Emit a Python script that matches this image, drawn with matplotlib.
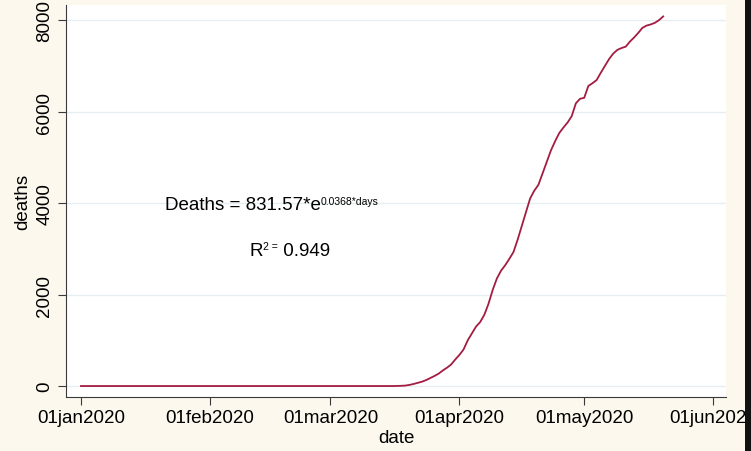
import matplotlib
matplotlib.use("Agg")

import matplotlib.dates as mdates
import matplotlib.pyplot as plt
import pandas as pd
from matplotlib.patches import Rectangle

# フォント設定 (Stata風のHelvetica系)
plt.rcParams["font.family"] = ["Liberation Sans", "DejaVu Sans"]

# データ: 2020年1月1日からの経過日数と累計死者数
start_date = "2020-01-01"
days = [0, 74, 75, 76, 77, 78, 79, 80, 81, 82, 83, 84, 85, 86, 87, 88, 89,
        90, 91, 92, 93, 94, 95, 96, 97, 98, 99, 100, 101, 102, 103, 104,
        105, 106, 107, 108, 109, 110, 111, 112, 113, 114, 115, 116, 117,
        118, 119, 120, 121, 122, 123, 124, 125, 126, 127, 128, 129, 130,
        131, 132, 133, 134, 135, 136, 137, 138, 139, 140]
deaths = [0, 0, 0, 2, 5, 10, 25, 45, 70, 95, 130, 175, 220, 270, 340, 400,
          470, 580, 680, 800, 1000, 1150, 1300, 1400, 1560, 1800, 2100,
          2350, 2520, 2640, 2780, 2930, 3200, 3500, 3800, 4100, 4270, 4400,
          4650, 4900, 5150, 5350, 5530, 5650, 5760, 5900, 6180, 6280, 6300,
          6560, 6620, 6690, 6850, 7000, 7150, 7270, 7350, 7390, 7420, 7530,
          7620, 7720, 7830, 7880, 7905, 7940, 8000, 8080]

tick_dates = ["2020-01-01", "2020-02-01", "2020-03-01",
              "2020-04-01", "2020-05-01", "2020-06-01"]
tick_labels = ["01jan2020", "01feb2020", "01mar2020",
               "01apr2020", "01may2020", "01jun2020"]
yticks = [0, 2000, 4000, 6000, 8000]

# 回帰式の文字列 (本体と上付き部分)
eq_main = "Deaths = 831.57*e"
eq_sup = "0.0368*days"
r2_main = "R"
r2_sup = "2 ="
r2_value = " 0.949"

BG_COLOR = "#FCF8EE"
LINE_COLOR = "#A31C42"
GRID_COLOR = "#E6EEF0"
AXIS_COLOR = "#3A3A3A"
FONT_SIZE = 13.5
SUP_SIZE = 7.5

W, H = 751, 452
fig = plt.figure(figsize=(W / 100, H / 100), dpi=100, facecolor=BG_COLOR)

# プロット領域 (ピクセル位置から算出)
left, right, top, bottom = 66, 726, 6, 398
ax = fig.add_axes([left / W, (H - bottom) / H, (right - left) / W, (bottom - top) / H])
ax.set_facecolor("white")

base = pd.Timestamp(start_date)
x = base + pd.to_timedelta(days, unit="D")
ax.plot(x, deaths, color=LINE_COLOR, linewidth=1.3, solid_joinstyle="round")

# 軸範囲
x0 = mdates.date2num(base)
ax.set_xlim(x0 - 3.6, x0 + 155.1)
ax.set_ylim(-240, 8330)

ax.set_xticks(pd.to_datetime(tick_dates))
ax.set_xticklabels(tick_labels)
ax.set_yticks(yticks)
ax.set_yticklabels([str(v) for v in yticks], rotation=90, va="center")

ax.grid(axis="y", color=GRID_COLOR, linewidth=1.0)
ax.set_axisbelow(True)

for side in ["top", "right"]:
    ax.spines[side].set_visible(False)
for side in ["left", "bottom"]:
    ax.spines[side].set_color(AXIS_COLOR)
    ax.spines[side].set_linewidth(0.8)

ax.tick_params(axis="both", direction="out", length=6, width=0.8,
               color=AXIS_COLOR, labelsize=FONT_SIZE)
ax.tick_params(axis="x", pad=3)
ax.tick_params(axis="y", pad=3)

ax.set_xlabel("date", fontsize=FONT_SIZE, labelpad=2)
ax.set_ylabel("deaths", fontsize=FONT_SIZE, labelpad=4)

# 回帰式の注記 (上付き文字は小さいテキストを本体の右に並べる)
t_eq = ax.text(x0 + 20.2, 3960, eq_main, fontsize=FONT_SIZE,
               va="center", ha="left")
ax.annotate(eq_sup, xy=(1.0, 0.55), xycoords=t_eq, fontsize=SUP_SIZE,
            va="baseline", ha="left")

t_r = ax.text(x0 + 40.6, 2970, r2_main, fontsize=FONT_SIZE,
              va="center", ha="left")
t_r2 = ax.annotate(r2_sup, xy=(1.0, 0.55), xycoords=t_r, fontsize=SUP_SIZE,
                   va="baseline", ha="left")
ax.annotate(r2_value, xy=(1.0, 0.0), xycoords=(t_r2, t_r),
            fontsize=FONT_SIZE, va="bottom", ha="left")

# 右端の黒い帯 (元画像の切り抜き)
fig.add_artist(Rectangle((745 / W, 0), 6 / W, 1, transform=fig.transFigure,
                         facecolor="#111111", edgecolor="none", zorder=10))

fig.savefig("out.png", dpi=100, facecolor=BG_COLOR)
